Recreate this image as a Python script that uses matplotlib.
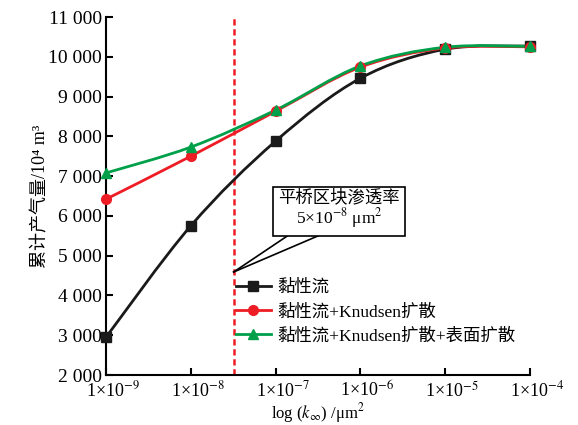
import numpy as np
import matplotlib
matplotlib.use('Agg')
import matplotlib.pyplot as plt
import matplotlib.transforms as mtransforms
from matplotlib.path import Path
from matplotlib.patches import PathPatch
from matplotlib.lines import Line2D

plt.rcParams['font.family'] = ['Liberation Serif', 'Noto Sans CJK SC', 'DejaVu Serif']
plt.rcParams['mathtext.fontset'] = 'stix'

perm = [1e-9, 1e-8, 1e-7, 1e-6, 1e-5, 1e-4]
viscous = [2950, 5750, 7880, 9460, 10190, 10270]
knudsen = [6420, 7500, 8630, 9740, 10220, 10250]
surface = [7080, 7730, 8660, 9770, 10240, 10260]
labels = ['黏性流', '黏性流+Knudsen扩散', '黏性流+Knudsen扩散+表面扩散']
colors = ['#1a1a1a', '#ee1c25', '#00a04a']
markers = ['s', 'o', '^']
x_block = 3.2e-8
yticks = [2000, 3000, 4000, 5000, 6000, 7000, 8000, 9000, 10000, 11000]
xtick_labels = ['1×10$^{-9}$', '1×10$^{-8}$', '1×10$^{-7}$', '1×10$^{-6}$', '1×10$^{-5}$', '1×10$^{-4}$']


def smooth_curve(xs, ys):
    # catmull-rom -> bezier, done in log-x space
    pts = np.column_stack([np.log10(xs), ys])
    n = len(pts)
    verts = [pts[0]]
    codes = [Path.MOVETO]
    for i in range(n - 1):
        p0 = pts[max(i - 1, 0)]
        p1 = pts[i]
        p2 = pts[i + 1]
        p3 = pts[min(i + 2, n - 1)]
        c1 = p1 + (p2 - p0) / 6
        c2 = p2 - (p3 - p1) / 6
        verts += [c1, c2, p2]
        codes += [Path.CURVE4] * 3
    verts = np.array(verts)
    verts[:, 0] = 10 ** verts[:, 0]
    return Path(verts, codes)


fig = plt.figure(figsize=(5.78, 4.25), dpi=100)
ax = fig.add_axes([0.1834, 0.1176, 0.7336, 0.8424])
ax.set_xscale('log')
ax.set_xlim(1e-9, 1e-4)
ax.set_ylim(2000, 11000)

ax.axvline(x_block, color='#ee1c25', linestyle=(0, (2.5, 1.5)), linewidth=1.8, zorder=1)

handles = []
for ys, c, m, lab in zip([viscous, knudsen, surface], colors, markers, labels):
    ax.add_patch(PathPatch(smooth_curve(perm, ys), fill=False, edgecolor=c, linewidth=2, zorder=2))
    ax.plot(perm, ys, linestyle='none', marker=m, color=c, markersize=7, clip_on=False, zorder=3)
    handles.append(Line2D([], [], color=c, marker=m, linewidth=2, markersize=7, label=lab))

ax.legend(handles=handles, loc='upper left', bbox_to_anchor=(0.29, 0.285), frameon=False,
          prop={'size': 12.5}, handlelength=2.0, handletextpad=0.4, labelspacing=0.45, borderaxespad=0)

# callout for block permeability
for xb in [1.6e-7, 4.0e-7]:
    ax.plot([x_block, xb], [4590, 5590], color='black', linewidth=1.2, zorder=4)
ax.text(5.6e-7, 6150, '平桥区块渗透率\n5×10$^{-8}$ μm$^2$', ha='center', va='center', fontsize=12.5,
        linespacing=1.0, zorder=5,
        bbox=dict(boxstyle='square,pad=0.3', facecolor='white', edgecolor='black', linewidth=1.2))

ax.spines['top'].set_visible(False)
ax.spines['right'].set_visible(False)
ax.spines['left'].set_linewidth(1.5)
ax.spines['bottom'].set_linewidth(1.5)

ax.set_yticks(yticks)
ax.set_yticklabels(['{:,}'.format(v).replace(',', ' ') for v in yticks])
ax.set_xticks(perm)
ax.set_xticklabels(xtick_labels)
ax.xaxis.set_minor_locator(matplotlib.ticker.NullLocator())
ax.tick_params(direction='in', length=5, width=1.5, labelsize=14)
ax.tick_params(axis='x', pad=4, labelsize=13)
ax.tick_params(axis='y', pad=3)
shift = mtransforms.ScaledTranslation(7 / 100, 0, fig.dpi_scale_trans)
for lab in ax.get_xticklabels():
    lab.set_transform(lab.get_transform() + shift)

ax.set_ylabel('累计产气量/10⁴ m³', fontsize=13, labelpad=-1)
ax.set_xlabel('log ($k_{\\infty}$) /μm$^2$', fontsize=12, labelpad=0)

fig.savefig('out.png', dpi=100)
